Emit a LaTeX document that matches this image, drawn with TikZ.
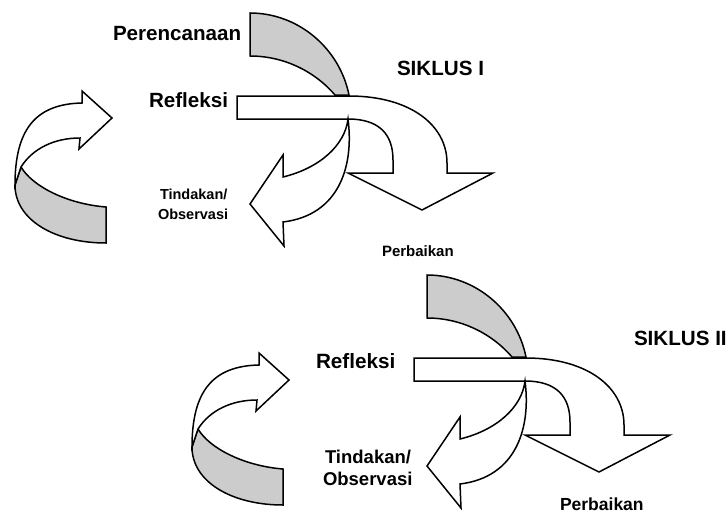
\documentclass[tikz,border=0pt]{standalone}
\usepackage{fontspec}
\setmainfont{Liberation Sans}
\definecolor{ringgray}{RGB}{204,204,204}
\tikzset{
  outl/.style={draw=black, line width=1.5pt, line join=miter},
  grayband/.style={outl, fill=ringgray},
  whiteband/.style={outl, fill=white},
  lbl/.style={anchor=base west, inner sep=0pt, outer sep=0pt, font=\bfseries},
}
\newcommand{\mycyclefig}{%
  % gray quarter ring (Perencanaan)
  \path[grayband] (250,13) .. controls (298,13) and (339.5,48) .. (349,95)
      -- (335,95) .. controls (313.7,70.3) and (282.7,56) .. (250,56) -- cycle;
  % Refleksi bar turning down into Perbaikan arrow
  \path[whiteband] (237,96) -- (349,96) .. controls (410,96) and (447,125) .. (447,163)
      -- (447,173) -- (493,173) -- (422,210) -- (348,173) -- (393,173) -- (393,160)
      .. controls (393,135) and (380,119) .. (348,119) -- (237,119) -- cycle;
  % Tindakan arrow curving down-left
  \path[whiteband] (348,119) .. controls (354,165) and (340,215) .. (283,222)
      -- (284,246) -- (250,204) -- (283,155) -- (283,177)
      .. controls (320,168) and (345,145) .. (348,119) -- cycle;
  % left U-turn arrow: gray back band
  \path[grayband] (21,167) .. controls (33,187) and (68,204) .. (106,207)
      -- (106,243) .. controls (55,243) and (15,220) .. (15,185) -- cycle;
  % left U-turn arrow: white front band with head
  \path[whiteband] (82,103) .. controls (35,104) and (15,130) .. (15,185)
      -- (21,167) .. controls (33,148) and (55,138) .. (80,138)
      -- (79,149) -- (112,118) -- (82,91) -- cycle;
}
\begin{document}
\begin{tikzpicture}[x=1pt, y=-1pt]
\useasboundingbox[fill=white] (0,0) rectangle (728,519);
% first cycle
\begin{scope}
  \mycyclefig
\end{scope}
% second cycle
\begin{scope}[shift={(177,262)}]
  \mycyclefig
\end{scope}
% labels, cycle I
\node[lbl, font=\bfseries\fontsize{20.6}{24}\selectfont] (perenc) at (113,40.5) {Perencanaan};
\node[lbl, font=\bfseries\fontsize{20.6}{24}\selectfont] (refl1) at (149,107) {Refleksi};
\node[lbl, font=\bfseries\fontsize{20.6}{24}\selectfont] (sik1) at (397,76) {SIKLUS I};
\node[lbl, font=\bfseries\fontsize{14.5}{17}\selectfont] (tind1) at (160,199) {Tindakan/};
\node[lbl, font=\bfseries\fontsize{14.5}{17}\selectfont] (obs1) at (158,219) {Observasi};
\node[lbl, font=\bfseries\fontsize{15}{18}\selectfont] (perb1) at (382,256) {Perbaikan};
% labels, cycle II
\node[lbl, font=\bfseries\fontsize{20.7}{24}\selectfont] (refl2) at (316,368) {Refleksi};
\node[lbl, font=\bfseries\fontsize{20.6}{24}\selectfont] (sik2) at (634,345) {SIKLUS II};
\node[lbl, font=\bfseries\fontsize{18.5}{22}\selectfont] (tind2) at (325,463) {Tindakan/};
\node[lbl, font=\bfseries\fontsize{18.5}{22}\selectfont] (obs2) at (323,485) {Observasi};
\node[lbl, font=\bfseries\fontsize{17.5}{21}\selectfont] (perb2) at (560,510) {Perbaikan};
\end{tikzpicture}
\end{document}
